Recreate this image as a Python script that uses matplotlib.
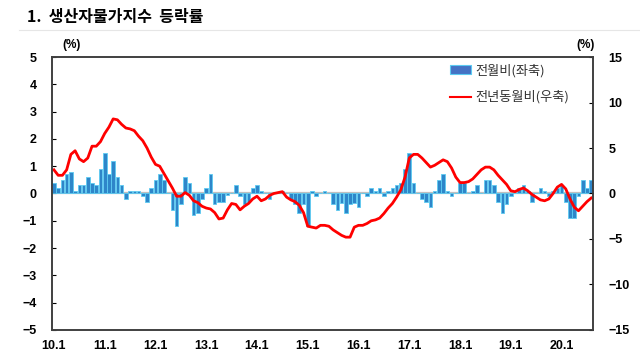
import numpy as np
import matplotlib.pyplot as plt
from matplotlib.patches import Patch
from matplotlib.lines import Line2D

plt.rcParams['font.family'] = ['Noto Sans CJK KR', 'DejaVu Sans']

# monthly, 2010.1 - 2020.8
mom = [0.4, 0.2, 0.5, 0.7, 0.8, 0.1, 0.3, 0.3, 0.6, 0.4, 0.3, 0.9,
       1.5, 0.7, 1.2, 0.6, 0.3, -0.2, 0.1, 0.1, 0.1, -0.1, -0.3, 0.2,
       0.5, 0.7, 0.5, 0.0, -0.6, -1.2, -0.4, 0.6, 0.4, -0.8, -0.7, -0.2,
       0.2, 0.7, -0.4, -0.3, -0.3, -0.05, 0.0, 0.3, -0.1, -0.4, -0.3, 0.2,
       0.3, 0.1, 0.0, -0.2, 0.0, 0.0, 0.1, 0.0, -0.2, -0.4, -0.7, -0.4,
       -1.2, 0.1, -0.1, 0.0, 0.1, 0.0, -0.4, -0.6, -0.35, -0.7, -0.4, -0.35,
       -0.5, 0.0, -0.1, 0.2, 0.1, 0.2, -0.1, 0.1, 0.2, 0.3, 0.4, 0.9,
       1.5, 0.4, 0.0, -0.2, -0.3, -0.5, 0.1, 0.5, 0.7, 0.1, -0.1, 0.0,
       0.4, 0.4, 0.0, 0.1, 0.3, 0.0, 0.5, 0.5, 0.3, -0.3, -0.7, -0.4,
       -0.1, 0.0, 0.2, 0.3, 0.1, -0.3, 0.0, 0.2, 0.1, -0.1, 0.1, 0.2,
       0.3, -0.3, -0.9, -0.9, -0.1, 0.5, 0.2, 0.5]

yoy = [2.6, 2.0, 2.0, 2.6, 4.3, 4.7, 3.8, 3.5, 3.9, 5.2, 5.2, 5.7,
       6.6, 7.3, 8.2, 8.1, 7.6, 7.2, 7.1, 6.9, 6.3, 5.8, 5.0, 4.0,
       3.2, 3.0, 2.2, 1.4, 0.6, -0.3, -0.3, 0.1, -0.2, -0.8, -1.0, -1.4,
       -1.6, -1.7, -2.1, -2.8, -2.7, -1.8, -1.1, -1.2, -1.8, -1.4, -1.1, -0.6,
       -0.3, -0.8, -0.6, -0.2, 0.0, 0.1, 0.2, -0.4, -0.7, -0.9, -1.3, -2.1,
       -3.6, -3.7, -3.8, -3.5, -3.5, -3.6, -4.0, -4.3, -4.6, -4.8, -4.8, -3.7,
       -3.5, -3.5, -3.3, -3.0, -2.9, -2.7, -2.2, -1.6, -1.1, -0.4, 0.4, 1.8,
       3.9, 4.3, 4.3, 3.9, 3.4, 2.9, 3.1, 3.4, 3.7, 3.5, 2.8, 1.8,
       1.2, 1.2, 1.3, 1.6, 2.1, 2.6, 2.9, 2.9, 2.6, 2.0, 1.5, 1.0,
       0.3, 0.2, 0.45, 0.6, 0.3, -0.1, -0.4, -0.7, -0.8, -0.6, 0.0, 0.7,
       1.0, 0.5, -0.6, -1.5, -1.9, -1.4, -0.9, -0.5]

year_labels = ['10.1', '11.1', '12.1', '13.1', '14.1', '15.1',
               '16.1', '17.1', '18.1', '19.1', '20.1']

x = np.arange(len(mom))

fig = plt.figure(figsize=(6.4, 3.61), dpi=100)
ax = fig.add_axes([0.081, 0.086, 0.846, 0.756])

bar_fill = '#2E86C9'
bar_edge = '#5CCBF2'
ax.axhline(0, color='#BFBFBF', lw=1.6, zorder=1)
ax.bar(x, mom, width=0.85, color=bar_fill, edgecolor=bar_edge, linewidth=0.6, zorder=2)
ax.set_xlim(-0.5, len(mom) - 0.5)
ax.set_ylim(-5, 5)
ax.set_yticks(range(-5, 6))
ax.set_xticks(range(0, len(mom), 12))
ax.set_xticklabels(year_labels)
ax.tick_params(axis='x', length=0, pad=7, labelsize=9)
ax.tick_params(axis='y', direction='in', length=3, pad=11, labelsize=9)
for t in ax.get_xticklabels() + ax.get_yticklabels():
    t.set_fontweight('bold')
    t.set_family('Liberation Sans')

ax2 = ax.twinx()
ax2.plot(x, yoy, color='#FF0000', lw=2)
ax2.set_ylim(-15, 15)
ax2.set_yticks(range(-15, 16, 5))
ax2.tick_params(axis='y', direction='in', length=3, pad=11, labelsize=9)
for t in ax2.get_yticklabels():
    t.set_fontweight('bold')
    t.set_family('Liberation Sans')

for a in (ax, ax2):
    for s in a.spines.values():
        s.set_color('#404040')
        s.set_linewidth(1.2)

handles = [Patch(facecolor='#4472C4', edgecolor=bar_edge, linewidth=0.8),
           Line2D([0], [0], color='#FF0000', lw=1.5)]
leg = ax2.legend(handles, ['전월비(좌축)', '전년동월비(우축)'], loc='upper left',
                 bbox_to_anchor=(0.735, 0.975), frameon=False, fontsize=9.5,
                 handlelength=1.6, handleheight=0.6, handletextpad=0.3,
                 labelspacing=1.0, borderaxespad=0, borderpad=0)
for t in leg.get_texts():
    t.set_color('#333333')

fig.text(0.042, 0.953, '1.  생산자물가지수  등락률', fontsize=11.5,
         fontweight='bold', va='center', ha='left')
fig.add_artist(Line2D([0.03, 1.0], [0.918, 0.918], color='#E6E6E6', lw=0.8))
fig.text(0.097, 0.875, '(%)', fontsize=8.5, fontweight='bold', va='center',
         ha='left', family='Liberation Sans')
fig.text(0.900, 0.875, '(%)', fontsize=8.5, fontweight='bold', va='center',
         ha='left', family='Liberation Sans')

fig.savefig('out.png', dpi=100)
